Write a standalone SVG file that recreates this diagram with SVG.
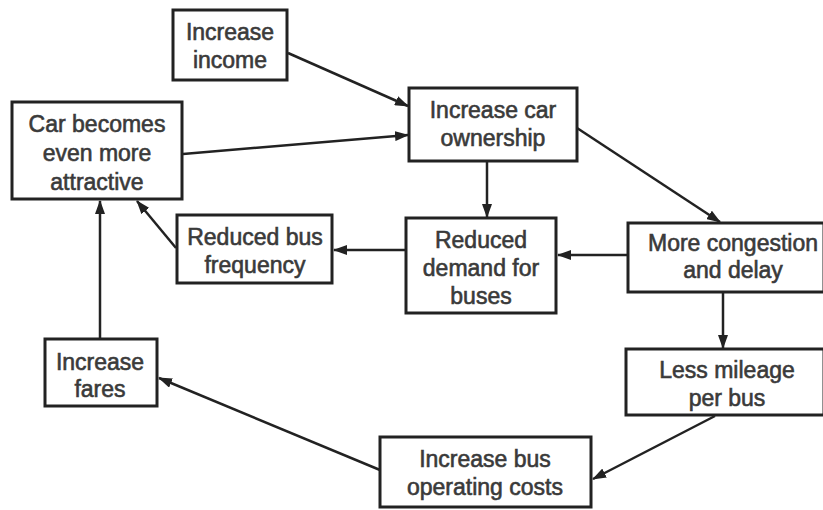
<svg xmlns="http://www.w3.org/2000/svg" width="823" height="510" viewBox="0 0 823 510">
<defs>
<marker id="ah" viewBox="0 0 14 10" refX="13" refY="5" markerWidth="14" markerHeight="10" markerUnits="userSpaceOnUse" orient="auto">
<path d="M0,0 L14,5 L0,10 Z" fill="#222"/>
</marker>
<style>
.box{fill:#fff;stroke:#222;stroke-width:3}
.t{font-family:"Liberation Sans",Arial,sans-serif;font-size:23px;fill:#3a3a3a;stroke:#3a3a3a;stroke-width:0.6;text-anchor:middle}
.c{stroke:#222;stroke-width:2.5;fill:none;marker-end:url(#ah)}
</style>
</defs>
<rect width="823" height="510" fill="#fff"/>
<g id="connectors">
<line class="c" x1="288" y1="53" x2="408" y2="106"/>
<line class="c" x1="183" y1="154" x2="408" y2="135"/>
<line class="c" x1="487" y1="162" x2="487" y2="217"/>
<line class="c" x1="577" y1="128" x2="720" y2="222"/>
<line class="c" x1="628" y1="255" x2="558" y2="255"/>
<line class="c" x1="405" y1="250" x2="334" y2="250"/>
<line class="c" x1="176" y1="248" x2="137" y2="201"/>
<line class="c" x1="723" y1="292" x2="723" y2="348"/>
<line class="c" x1="715" y1="416" x2="593" y2="479"/>
<line class="c" x1="380" y1="470" x2="159" y2="378"/>
<line class="c" x1="100" y1="339" x2="100" y2="201"/>
</g>
<g id="increase-income">
<rect class="box" x="173" y="10" width="114" height="70"/>
<text class="t" x="230" y="40">Increase</text>
<text class="t" x="230" y="68">income</text>
</g>
<g id="car-attractive">
<rect class="box" x="12" y="102" width="170" height="97"/>
<text class="t" x="97" y="132">Car becomes</text>
<text class="t" x="97" y="161">even more</text>
<text class="t" x="97" y="190">attractive</text>
</g>
<g id="car-ownership">
<rect class="box" x="409" y="88" width="168" height="73"/>
<text class="t" x="493" y="118">Increase car</text>
<text class="t" x="493" y="146">ownership</text>
</g>
<g id="reduced-frequency">
<rect class="box" x="177" y="215" width="155" height="68"/>
<text class="t" x="255" y="245">Reduced bus</text>
<text class="t" x="255" y="273">frequency</text>
</g>
<g id="reduced-demand">
<rect class="box" x="406" y="218" width="150" height="95"/>
<text class="t" x="481" y="248">Reduced</text>
<text class="t" x="481" y="276">demand for</text>
<text class="t" x="481" y="304">buses</text>
</g>
<g id="congestion">
<rect class="box" x="628" y="223" width="196" height="69"/>
<text class="t" x="733" y="251">More congestion</text>
<text class="t" x="733" y="278">and delay</text>
</g>
<g id="less-mileage">
<rect class="box" x="626" y="349" width="198" height="66"/>
<text class="t" x="727" y="378">Less mileage</text>
<text class="t" x="727" y="406">per bus</text>
</g>
<g id="operating-costs">
<rect class="box" x="380" y="437" width="211" height="70"/>
<text class="t" x="485" y="467">Increase bus</text>
<text class="t" x="485" y="495">operating costs</text>
</g>
<g id="increase-fares">
<rect class="box" x="45" y="339" width="112" height="67"/>
<text class="t" x="100" y="370">Increase</text>
<text class="t" x="100" y="397">fares</text>
</g>
</svg>
